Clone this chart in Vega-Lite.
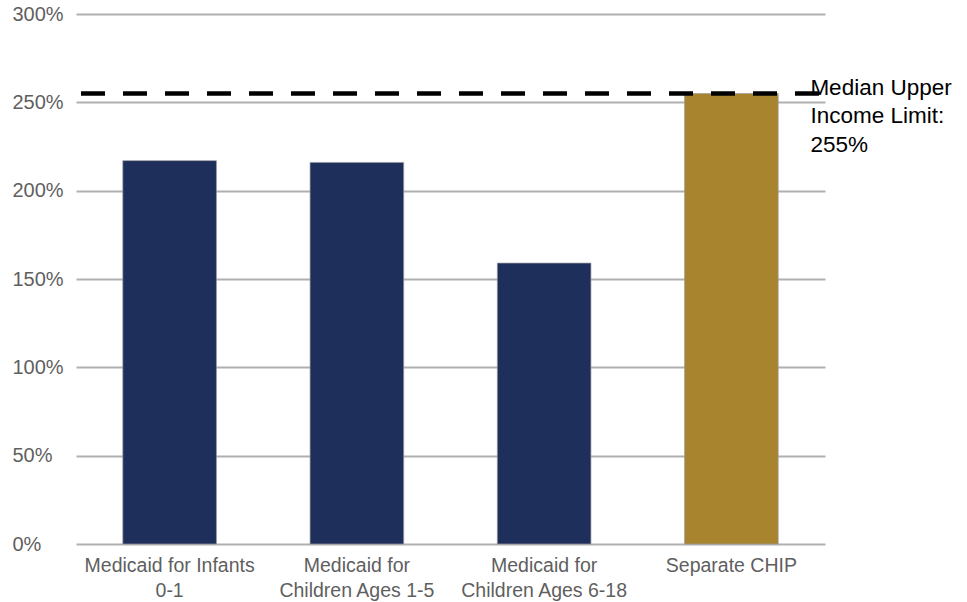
{
  "$schema": "https://vega.github.io/schema/vega-lite/v6.json",
  "width": 749,
  "height": 530,
  "autosize": {"type": "none"},
  "padding": {"left": 76, "top": 14, "right": 142, "bottom": 58},
  "background": "white",
  "config": {
    "view": {"stroke": null},
    "font": "Liberation Sans"
  },
  "datasets": {
    "limits": [
      {"group": "Medicaid for Infants|0-1", "limit": 217, "kind": "Medicaid"},
      {"group": "Medicaid for|Children Ages 1-5", "limit": 216, "kind": "Medicaid"},
      {"group": "Medicaid for|Children Ages 6-18", "limit": 159, "kind": "Medicaid"},
      {"group": "Separate CHIP", "limit": 255, "kind": "CHIP"}
    ],
    "median": [
      {"group": "Separate CHIP", "median": 255}
    ]
  },
  "layer": [
    {
      "data": {"name": "limits"},
      "mark": {"type": "bar", "stroke": "#9a9a9a", "strokeWidth": 1, "strokeOpacity": 0.7},
      "encoding": {
        "x": {
          "field": "group",
          "type": "nominal",
          "sort": null,
          "scale": {"paddingInner": 0.5, "paddingOuter": 0.25},
          "axis": {
            "title": null,
            "labelAngle": 0,
            "domain": false,
            "ticks": false,
            "labelExpr": "split(datum.label, '|')",
            "labelFontSize": 19.5,
            "labelColor": "#5f5f5f",
            "labelPadding": 12,
            "labelLineHeight": 25,
            "labelBaseline": "top"
          }
        },
        "y": {
          "field": "limit",
          "type": "quantitative",
          "scale": {"domain": [0, 300], "nice": false},
          "axis": {
            "title": null,
            "values": [0, 50, 100, 150, 200, 250, 300],
            "labelExpr": "datum.value + '%'",
            "labelAlign": "left",
            "labelPadding": 64,
            "labelFontSize": 20,
            "labelColor": "#5f5f5f",
            "ticks": false,
            "domain": false,
            "grid": true,
            "gridColor": "#b0b0b0",
            "gridWidth": 2
          }
        },
        "color": {
          "field": "kind",
          "type": "nominal",
          "scale": {"domain": ["Medicaid", "CHIP"], "range": ["#1f2f5c", "#a8842f"]},
          "legend": null
        }
      }
    },
    {
      "data": {"name": "median"},
      "mark": {"type": "rule", "color": "#000000", "strokeWidth": 4.5, "strokeDash": [24, 18], "strokeDashOffset": 36},
      "encoding": {
        "y": {"field": "median", "type": "quantitative"}
      }
    },
    {
      "data": {"name": "median"},
      "transform": [
        {"calculate": "['Median Upper', 'Income Limit:', datum.median + '%']", "as": "caption"}
      ],
      "mark": {
        "type": "text",
        "align": "left",
        "baseline": "alphabetic",
        "dx": 79,
        "dy": 1,
        "fontSize": 22.5,
        "lineHeight": 28.8,
        "color": "#000000"
      },
      "encoding": {
        "x": {"field": "group", "type": "nominal", "sort": null},
        "y": {"field": "median", "type": "quantitative"},
        "text": {"field": "caption"}
      }
    }
  ]
}
